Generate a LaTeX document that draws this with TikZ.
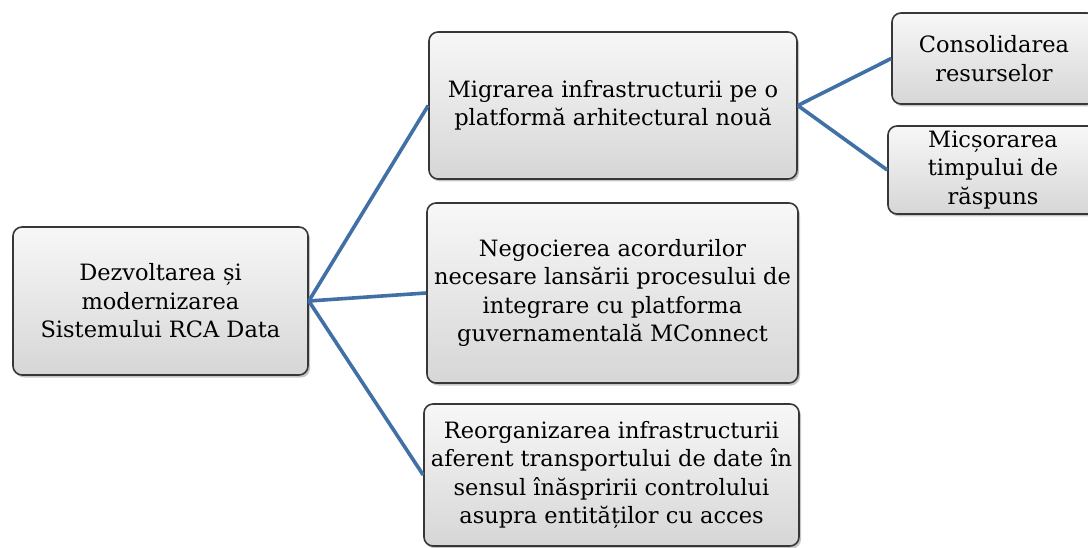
\documentclass[tikz,border=0pt]{standalone}
\usepackage{fontspec}
\setmainfont{DejaVu Serif}
\usetikzlibrary{shadows}
\definecolor{linkblue}{RGB}{64,112,166}
\definecolor{boxedge}{RGB}{55,55,55}
\tikzset{
    box/.style={draw=boxedge, line width=1.6pt, rounded corners=9pt,
        top color=gray!6, bottom color=gray!32, align=center,
        inner sep=2pt, font=\fontsize{22.5}{28.5}\selectfont,
        drop shadow={shadow xshift=2pt, shadow yshift=-2.5pt, opacity=0.45}},
    link/.style={draw=linkblue, line width=3.6pt}
}
\begin{document}
\begin{tikzpicture}[x=1pt, y=-1pt]
    \useasboundingbox (0,0) rectangle (1088,548);
    \node[box, minimum width=295pt, minimum height=148pt] (root) at (160.5,301)
        {Dezvoltarea și\\modernizarea\\Sistemului RCA Data};
    \node[box, minimum width=368pt, minimum height=147pt] (migr) at (613,105.5)
        {Migrarea infrastructurii pe o\\platformă arhitectural nouă};
    \node[box, minimum width=371pt, minimum height=180pt] (nego) at (612.5,293)
        {Negocierea acordurilor\\necesare lansării procesului de\\integrare cu platforma\\guvernamentală MConnect};
    \node[box, minimum width=375pt, minimum height=142pt] (reorg) at (611.5,475)
        {Reorganizarea infrastructurii\\aferent transportului de date în\\sensul înăspririi controlului\\asupra entităților cu acces};
    \node[box, minimum width=204pt, minimum height=91pt] (cons) at (994,58.5)
        {Consolidarea\\resurselor};
    \node[box, minimum width=210pt, minimum height=88pt] (mics) at (993,170)
        {Micșorarea\\timpului de\\răspuns};
    % legaturi
    \draw[link] (root.east) -- (migr.west);
    \draw[link] (root.east) -- (nego.west);
    \draw[link] (root.east) -- (reorg.west);
    \draw[link] (migr.east) -- (cons.west);
    \draw[link] (migr.east) -- (mics.west);
\end{tikzpicture}
\end{document}
